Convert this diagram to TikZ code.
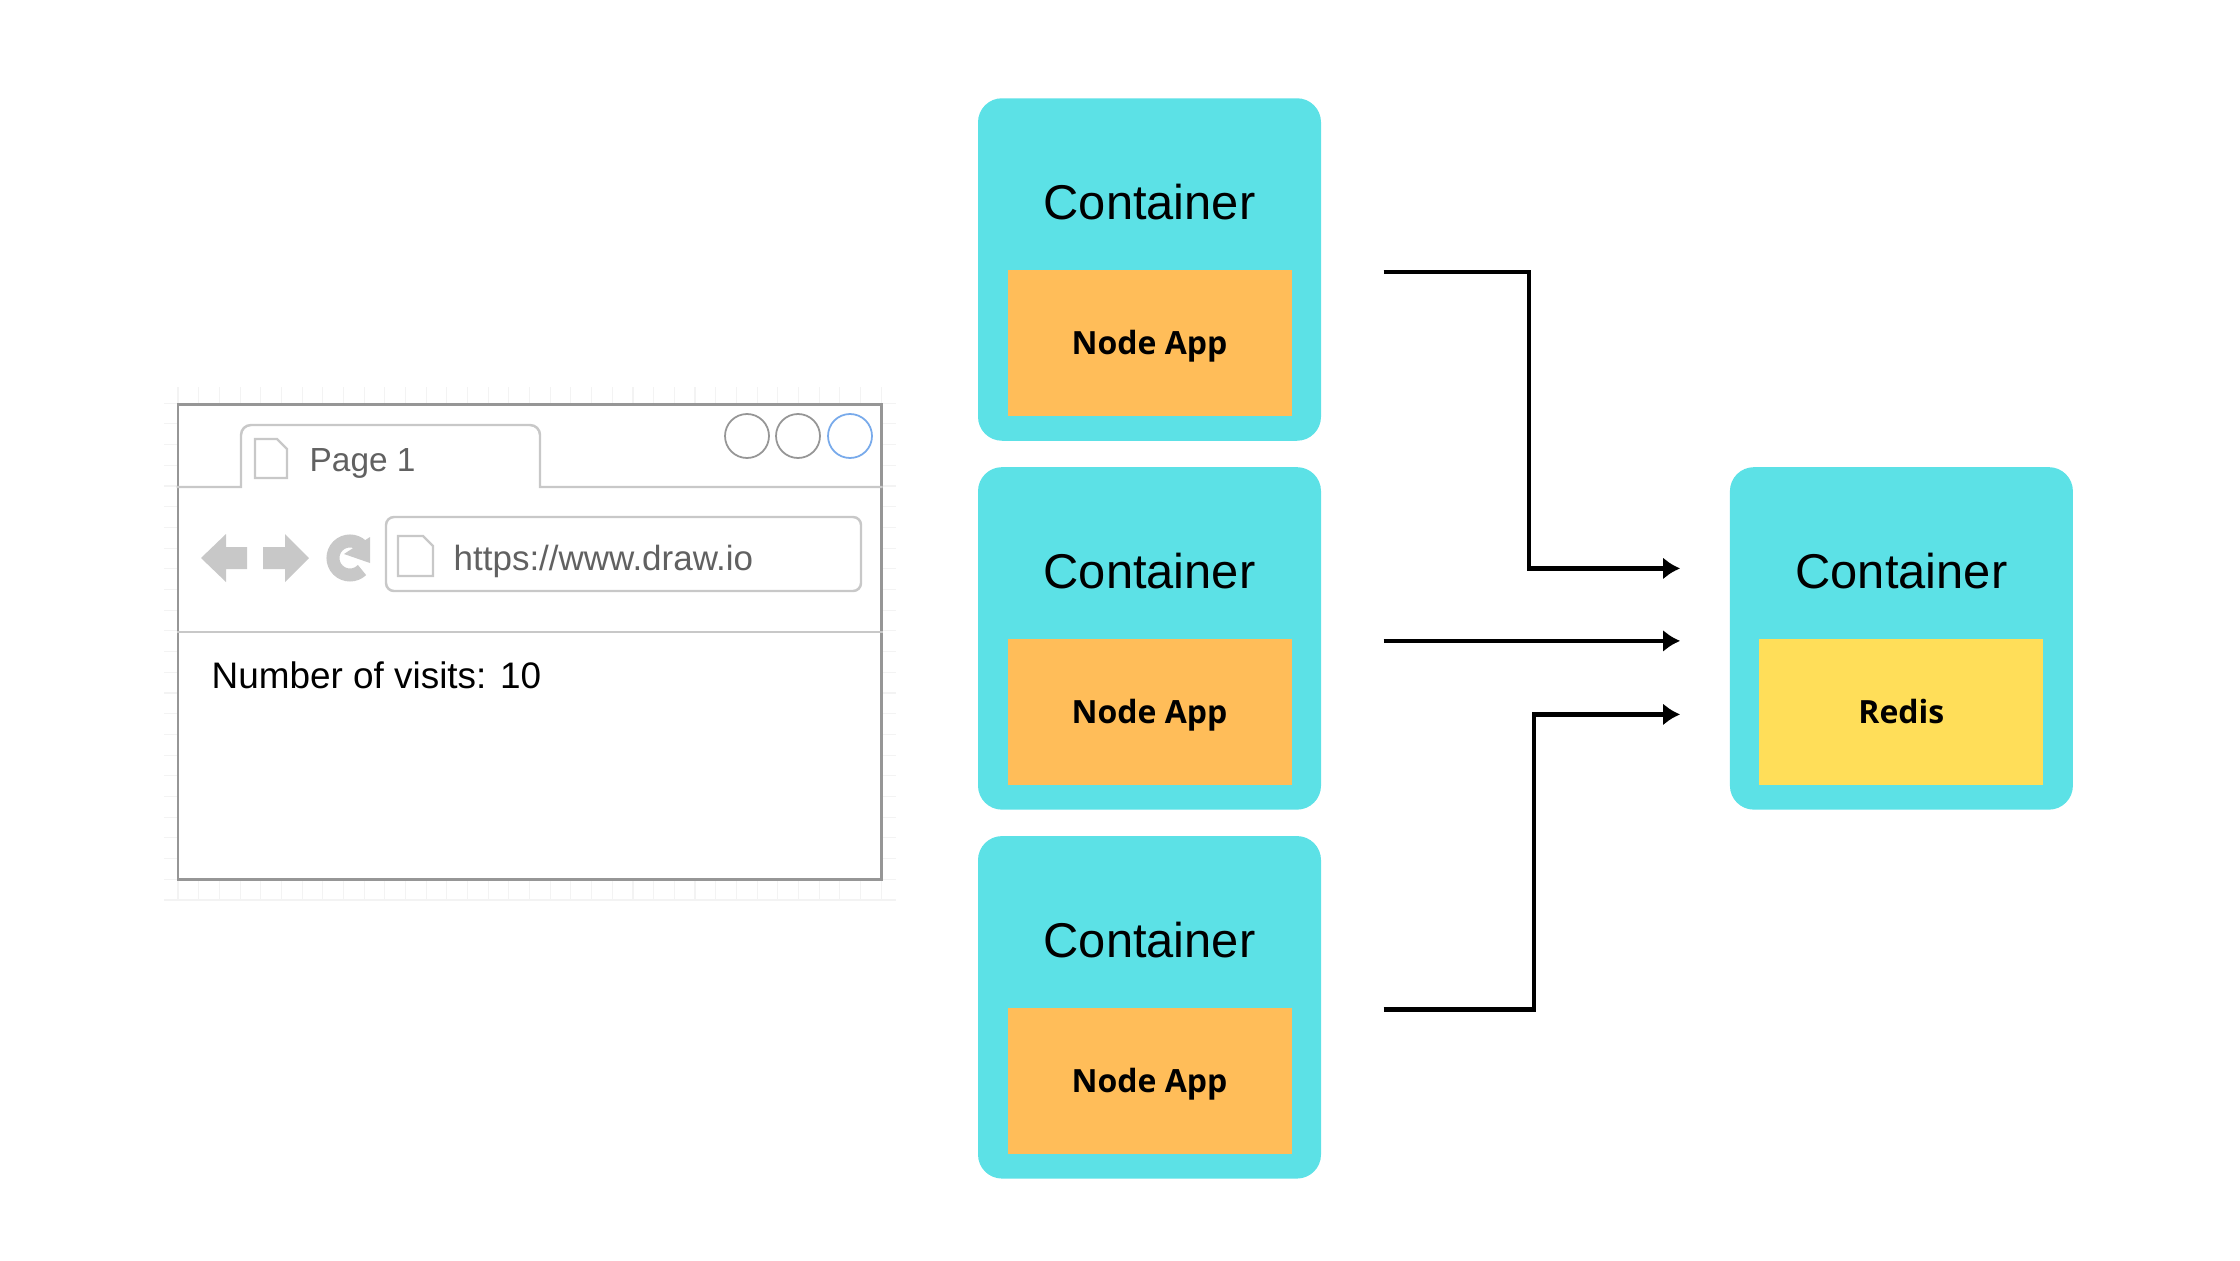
\documentclass[tikz,border=0pt]{standalone}
\usepackage{fontspec}
\setmainfont{Liberation Sans}
\newfontfamily\appfont{Open Sans}
\usetikzlibrary{positioning}
\usetikzlibrary{calc}
\usetikzlibrary{arrows.meta}
\definecolor{aqua}{HTML}{5CE1E6}
\definecolor{apricot}{HTML}{FFBD59}
\definecolor{butter}{HTML}{FFDE59}
\definecolor{frame}{RGB}{150,150,150}
\definecolor{ash}{RGB}{200,200,200}
\definecolor{gridline}{RGB}{243,243,243}

\begin{document}
\begin{tikzpicture}[
    >={Latex[length=0.17cm,width=0.22cm]},
    % node styles
    conbox/.style = {
      draw=none,
      fill=aqua,
      rounded corners=0.24cm,
      minimum width=3.43cm,
      minimum height=3.425cm
    },
    appbox/.style = {
      draw=none,
      minimum width=2.84cm,
      minimum height=1.46cm,
      text height=0.30cm,
      text depth=0.06cm,
      font=\appfont\bfseries\fontsize{9.1}{11}\selectfont
    },
    conlabel/.style = {
      inner sep=0pt,
      font=\fontsize{13.9}{16}\selectfont
    },
    webtext/.style = {
      anchor=base west,
      inner sep=0pt,
      font=\fontsize{9.5}{11}\selectfont,
      text=black!62
    },
    dot/.style = {
      circle,
      draw=frame,
      line width=0.5pt,
      minimum size=0.44cm,
      inner sep=0pt
    },
    % arrow styles
    arr/.style = {->, line width=1.35pt, draw=black},
    rule/.style = {line width=0.7pt, draw=ash}
  ]
  \useasboundingbox (0,0) rectangle (22.4,12.6);

  % --- Browser
  \foreach \x in {0,...,34}
    \draw[gridline, line width=0.3pt] ({1.78+\x*0.2068},3.60) -- ({1.78+\x*0.2068},8.73);
  \foreach \y in {0,...,24}
    \draw[gridline, line width=0.3pt] (1.64,{3.60+\y*0.207}) -- (8.96,{3.60+\y*0.207});

  \node[draw=frame, fill=white, line width=0.85pt, minimum width=7.03cm, minimum height=4.75cm] (browser) at (5.295,6.185) {};

  \draw[rule] (browser.west |- 0,7.73) -- (2.41,7.73) -- (2.41,8.25)
    to[out=90,in=180] (2.51,8.35) -- (5.30,8.35) to[out=0,in=90] (5.40,8.25)
    -- (5.40,7.73) -- (browser.east |- 0,7.73);
  \draw[rule] (browser.west |- 0,6.28) -- (browser.east |- 0,6.28);

  \node[dot] (dotA) at (7.47,8.24) {};
  \node[dot] (dotB) at (7.98,8.24) {};
  \node[dot, draw={rgb,255:red,120;green,170;blue,235}] (dotC) at (8.50,8.24) {};

  \node[draw=ash, line width=0.7pt, rounded corners=0.08cm, minimum width=4.75cm, minimum height=0.74cm] (urlbar) at (6.235,7.06) {};

  % page icons
  \foreach \x/\y/\w/\h in {2.55/7.82/0.32/0.39, 3.98/6.84/0.35/0.40}
    \draw[rule] (\x,\y) -- ++(\w,0) -- ++(0,{\h-0.1}) -- ++(-0.1,0.1) -- ++({0.1-\w},0) -- cycle;

  % back, forward, reload
  \fill[ash] (2.01,7.02) -- (2.26,7.26) -- (2.26,7.13) -- (2.47,7.13) -- (2.47,6.91) -- (2.26,6.91) -- (2.26,6.78) -- cycle;
  \fill[ash] (3.09,7.02) -- (2.85,7.26) -- (2.85,7.13) -- (2.63,7.13) -- (2.63,6.91) -- (2.85,6.91) -- (2.85,6.78) -- cycle;
  \draw[ash, line width=0.13cm] (3.62,6.90) arc[start angle=-45, end angle=-315, radius=0.17];
  \fill[ash] (3.70,7.23) -- (3.70,6.97) -- (3.44,7.06) -- cycle;

  \node[webtext] (tabname) at (3.09,7.89) {Page 1};
  \node[webtext, font=\fontsize{9.95}{12}\selectfont] (urltext) at (4.53,6.90) {https://www.draw.io};
  \node[webtext, font=\fontsize{10.5}{12}\selectfont, text=black] (visits) at (2.11,5.72) {Number of visits: 10};

  % --- Containers
  \node[conbox] (conA) at (11.495,9.905) {};
  \node[conbox, below=0.25cm of conA] (conB) {};
  \node[conbox, below=0.25cm of conB] (conC) {};
  \node[conbox, right=4.075cm of conB] (conD) {};

  \foreach \con/\txt/\col in {conA/Node App/apricot, conB/Node App/apricot, conC/Node App/apricot, conD/Redis/butter} {
    \node[appbox, fill=\col, above=0.25cm of \con.south] (app\con) {\txt};
    \node[conlabel, above=0.485cm of app\con.north] (label\con) {Container};
  }

  % --- Arrows
  \path (conA.east) ++(0.62,-0.025) coordinate (outA);
  \path (conB.east) ++(0.62,-0.025) coordinate (outB);
  \path (conC.east) ++(0.62,-0.025) coordinate (outC);
  \path (conD.west) ++(-0.49,0.70) coordinate (inA);
  \path (conD.west) ++(-0.49,-0.025) coordinate (inB);
  \path (conD.west) ++(-0.49,-0.76) coordinate (inC);
  \coordinate (midA) at (15.29,8);
  \coordinate (midC) at (15.34,4);

  \draw[arr] (outA) -| (midA) |- (inA);
  \draw[arr] (outB) -- (inB);
  \draw[arr] (outC) -| (midC) |- (inC);

\end{tikzpicture}
\end{document}
